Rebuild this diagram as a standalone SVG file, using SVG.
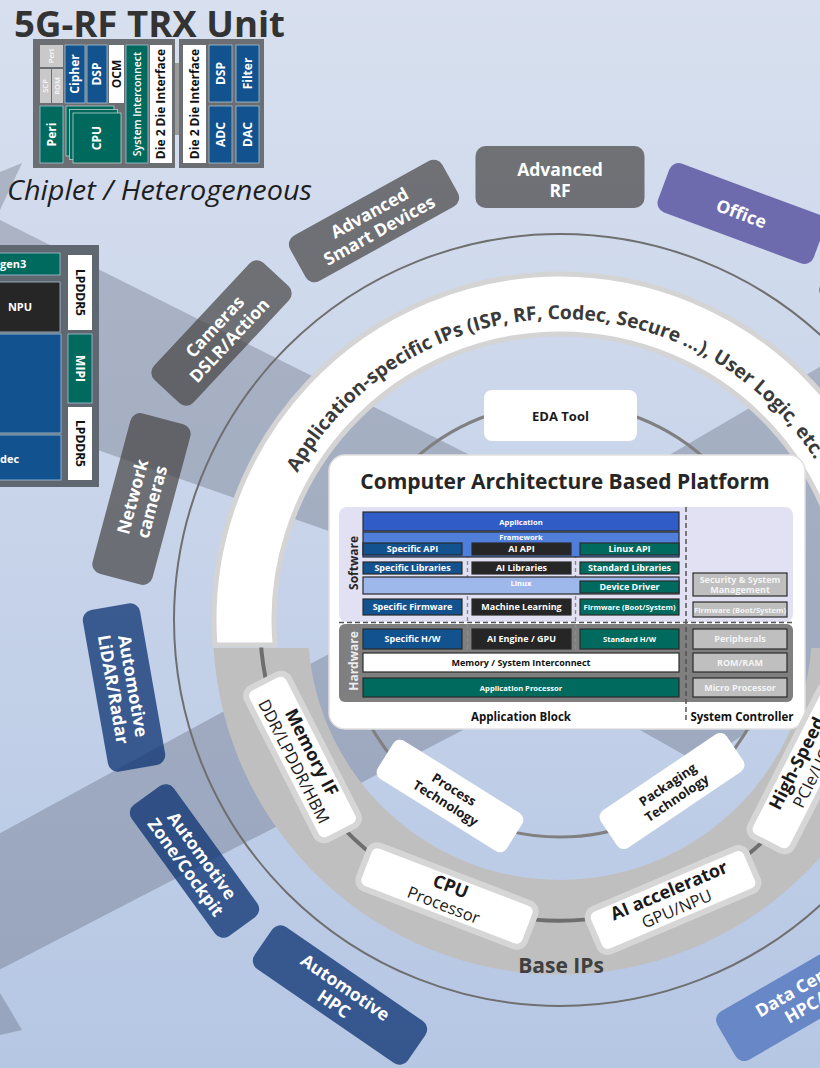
<svg xmlns="http://www.w3.org/2000/svg" width="820" height="1068" viewBox="0 0 820 1068">
<defs>
<linearGradient id="bg" x1="0" y1="0" x2="0" y2="1">
<stop offset="0" stop-color="#d8e0ef"/>
<stop offset="1" stop-color="#b6c7e4"/>
</linearGradient>
<path id="rp" d="M 259 620 A 301 301 0 0 1 861 620"/>
<style>
text{font-family:"Open Sans","Noto Sans","Liberation Sans",sans-serif}
.app{fill:#444342;fill-opacity:.7}
.auto{fill:#0b3171;fill-opacity:.75}
.band{fill:#3c4352;opacity:.26}
.ta{font-size:17.5px;font-weight:700;fill:#fff;text-anchor:middle}
.ip{fill:#fff;stroke:#d6d6d6;stroke-width:6}
.ipb{font-size:18px;font-weight:700;fill:#1a1a1a;text-anchor:middle}
.ipr{font-size:16.5px;font-weight:400;fill:#1a1a1a;text-anchor:middle}
.tech{font-size:13px;font-weight:700;fill:#1a1a1a;text-anchor:middle}
.blk{stroke:#2b2b2b;stroke-width:1.2}
.db{fill:#12528f}
.bk{fill:#262626}
.tl{fill:#006a5e}
.sg{fill:#bfbfbf}
.t9{font-size:9px;font-weight:700;fill:#fff;text-anchor:middle}
.t8{font-size:7.6px;font-weight:700;fill:#fff;text-anchor:middle}
.ts{font-size:9px;font-weight:700;fill:#f4f4f4;text-anchor:middle}
.ts8{font-size:7.6px;font-weight:700;fill:#f4f4f4;text-anchor:middle}
.cc{stroke:#a9c3d6;stroke-width:0.8}
.cw{fill:#fff}
.cg{fill:#c9c9c9}
.ct{font-size:12px;font-weight:700;fill:#fff;text-anchor:middle}
.ctk{font-size:12px;font-weight:700;fill:#111;text-anchor:middle}
.cs{font-size:7.5px;font-weight:600;fill:#f8f8f8;text-anchor:middle}
</style>
</defs>
<rect x="0" y="0" width="820" height="1068" fill="url(#bg)"/>

<!-- translucent bands -->
<g id="bands">
<polygon class="band" points="-5,217.5 600,520 600,626 -5,414"/>
<polygon class="band" points="-5,836 560,528 560,680 -5,972"/>
<polygon class="band" points="560,519 830,361 830,676 700,764 640,730 560,730"/>
<polygon class="band" points="0,172 22,163 0,210"/>
<polygon class="band" points="0,993 22,1030 0,1035"/>
</g>

<!-- application boxes (outer) -->
<g id="n-adv-rf" transform="translate(560,177)"><rect class="app" x="-84.5" y="-31" width="169" height="62" rx="10"/><text class="ta" y="-1">Advanced</text><text class="ta" y="20">RF</text></g>
<g id="n-smart" transform="translate(374,221) rotate(-29)"><rect class="app" x="-87" y="-26" width="174" height="52" rx="10"/><text class="ta" y="-3">Advanced</text><text class="ta" y="17">Smart Devices</text></g>
<g id="n-cameras" transform="translate(221.5,333) rotate(-47)"><rect class="app" x="-80" y="-27" width="160" height="54" rx="10"/><text class="ta" y="-3">Cameras</text><text class="ta" y="17">DSLR/Action</text></g>
<g id="n-netcam" transform="translate(141.5,499) rotate(-75)"><rect class="app" x="-83" y="-31" width="166" height="62" rx="10"/><text class="ta" y="-3">Network</text><text class="ta" y="17">cameras</text></g>
<g id="n-lidar" transform="translate(124,687.5) rotate(80)"><rect class="auto" x="-82" y="-29" width="164" height="58" rx="10"/><text class="ta" y="-3">Automotive</text><text class="ta" y="17">LiDAR/Radar</text></g>
<g id="n-zone" transform="translate(194.5,861) rotate(54)"><rect class="auto" x="-81" y="-26" width="162" height="52" rx="10"/><text class="ta" y="-3">Automotive</text><text class="ta" y="17">Zone/Cockpit</text></g>
<g id="n-autohpc" transform="translate(340,995) rotate(34.5)"><rect class="auto" x="-93" y="-25.5" width="186" height="51" rx="10"/><text class="ta" y="-3">Automotive</text><text class="ta" y="17">HPC</text></g>
<g id="n-datacenter" transform="translate(807,994) rotate(-30)"><rect x="-93" y="-28" width="186" height="56" rx="10" fill="#6787c6"/><text class="ta" y="-3">Data Center</text><text class="ta" y="17">HPC/AI</text></g>
<g id="n-office" transform="translate(741.5,213.5) rotate(20.4)"><rect x="-83" y="-26" width="166" height="52" rx="10" fill="#6e6aae"/><text class="ta" y="6.5">Office</text></g>
<g id="n-edge" transform="translate(892,325) rotate(42)"><rect class="app" x="-80" y="-26" width="160" height="52" rx="10"/></g>

<!-- rings -->
<g id="rings">
<circle cx="560" cy="620" r="386" fill="none" stroke="#6f6f6f" stroke-width="2"/>
<path d="M 213.6 648 A 347 347 0 0 0 906.4 648 L 811.2 648 A 252 252 0 0 1 308.8 648 Z" fill="#bfbfbf"/>
<path d="M 260.5 638 A 300 300 0 0 0 859.5 638" fill="none" stroke="#6e6e6e" stroke-width="4"/>
<circle cx="560" cy="620" r="217" fill="none" stroke="#808080" stroke-width="3"/>
<path d="M 214.9 645 A 346 346 0 1 1 905.1 645 L 844.9 645 A 286 286 0 1 0 275.1 645 Z" fill="#fff" stroke="#d4d4d4" stroke-width="5"/>
<text font-size="19.3" font-weight="700" fill="#3a3a3a"><textPath href="#rp" startOffset="49.2%" text-anchor="middle">Application-specific IPs (ISP, RF, Codec, Secure ...), User Logic, etc.</textPath></text>
<text x="561" y="973" font-size="21" font-weight="700" fill="#404040" text-anchor="middle">Base IPs</text>
</g>

<g id="n-eda"><rect x="484" y="390" width="153" height="51" rx="8" fill="#fff"/><text x="560.5" y="420.5" font-size="13" font-weight="700" fill="#1a1a1a" text-anchor="middle">EDA Tool</text></g>

<!-- platform -->
<g id="n-platform">
<rect x="329" y="455" width="476" height="274" rx="16" fill="#fff" stroke="#e0e0e0" stroke-width="1.5"/>
<text x="565" y="489" font-size="21" font-weight="700" fill="#262626" text-anchor="middle">Computer Architecture Based Platform</text>
<rect x="339" y="507" width="454" height="115" rx="8" fill="#e2e1f3"/>
<rect x="339" y="624" width="454" height="78" rx="6" fill="#7f7f7f"/>
<text transform="translate(358,563) rotate(-90)" font-size="12" font-weight="700" fill="#262626" text-anchor="middle">Software</text>
<text transform="translate(358,661) rotate(-90)" font-size="12" font-weight="700" fill="#ececec" text-anchor="middle">Hardware</text>
<line x1="467.5" y1="533" x2="467.5" y2="651" stroke="#8c8c8c" stroke-width="1.4" stroke-dasharray="4 3"/>
<line x1="575.5" y1="533" x2="575.5" y2="651" stroke="#8c8c8c" stroke-width="1.4" stroke-dasharray="4 3"/>
<rect class="blk" x="363" y="512" width="316" height="19" fill="#2f5cc6"/><text class="t8" x="521" y="524.5">Application</text>
<rect class="blk" x="363" y="532" width="316" height="25" fill="#4f7edb"/><text class="t8" x="521" y="540">Framework</text>
<rect class="blk db" x="363" y="543" width="99" height="12"/><text class="t9" x="412.5" y="552.2">Specific API</text>
<rect class="blk bk" x="472" y="543" width="99" height="12"/><text class="t9" x="521.5" y="552.2">AI API</text>
<rect class="blk tl" x="580" y="543" width="99" height="12"/><text class="t9" x="629.5" y="552.2">Linux API</text>
<rect class="blk db" x="363" y="562" width="99" height="12"/><text class="t9" x="412.5" y="571.3">Specific Libraries</text>
<rect class="blk bk" x="472" y="562" width="99" height="12"/><text class="t9" x="521.5" y="571.3">AI Libraries</text>
<rect class="blk tl" x="580" y="562" width="99" height="12"/><text class="t9" x="629.5" y="571.3">Standard Libraries</text>
<rect class="blk" x="363" y="577" width="316" height="17" fill="#9fb8ec"/><text class="t8" x="521" y="585.5">Linux</text>
<rect class="blk tl" x="580" y="581" width="99" height="12"/><text class="t9" x="629.5" y="590.3">Device Driver</text>
<rect class="blk db" x="363" y="599" width="99" height="16"/><text class="t9" x="412.5" y="610.2">Specific Firmware</text>
<rect class="blk bk" x="472" y="599" width="99" height="16"/><text class="t9" x="521.5" y="610.2">Machine Learning</text>
<rect class="blk tl" x="580" y="599" width="99" height="16"/><text class="t8" x="629.5" y="609.8">Firmware (Boot/System)</text>
<rect class="blk db" x="363" y="629" width="99" height="20"/><text class="t9" x="412.5" y="642.3" font-size="9.5">Specific H/W</text>
<rect class="blk bk" x="472" y="629" width="99" height="20"/><text class="t9" x="521.5" y="642.3">AI Engine / GPU</text>
<rect class="blk tl" x="580" y="629" width="99" height="20"/><text class="t8" x="629.5" y="642" font-size="8">Standard H/W</text>
<rect class="blk" x="363" y="653" width="316" height="19" fill="#fff"/><text x="521" y="665.7" font-size="9" font-weight="700" fill="#111" text-anchor="middle">Memory / System Interconnect</text>
<rect class="blk tl" x="363" y="678" width="316" height="19"/><text class="t8" x="521" y="690.5">Application Processor</text>
<rect class="blk sg" x="693" y="573" width="94" height="23"/><text class="ts" x="740" y="582.8" font-size="8.6">Security &amp; System</text><text class="ts" x="740" y="593.2" font-size="8.6">Management</text>
<rect class="blk sg" x="693" y="602" width="94" height="15"/><text class="ts8" x="740" y="612.5">Firmware (Boot/System)</text>
<rect class="blk sg" x="693" y="629" width="94" height="20"/><text class="ts" x="740" y="642.3" font-size="8.5">Peripherals</text>
<rect class="blk sg" x="693" y="653" width="94" height="19"/><text class="ts" x="740" y="665.7">ROM/RAM</text>
<rect class="blk sg" x="693" y="678" width="94" height="19"/><text class="ts" x="740" y="690.7">Micro Processor</text>
<line x1="339" y1="622.5" x2="793" y2="622.5" stroke="#555" stroke-width="1.5" stroke-dasharray="5 3"/>
<line x1="686" y1="507" x2="686" y2="722" stroke="#555" stroke-width="1.5" stroke-dasharray="5 3"/>
<text x="521" y="721" font-size="11.5" font-weight="700" fill="#111" text-anchor="middle">Application Block</text>
<text x="742" y="721" font-size="11.5" font-weight="700" fill="#111" text-anchor="middle">System Controller</text>
</g>

<!-- base IPs -->
<g id="n-memif" transform="translate(302.5,757) rotate(63)"><rect class="ip" x="-85" y="-23.5" width="170" height="47" rx="9"/><text class="ipb" y="-4">Memory IF</text><text class="ipr" y="15.5">DDR/LPDDR/HBM</text></g>
<g id="n-cpu" transform="translate(447,896) rotate(21)"><rect class="ip" x="-89" y="-23" width="178" height="46" rx="9"/><text class="ipb" y="-4">CPU</text><text class="ipr" y="15.5">Processor</text></g>
<g id="n-ai" transform="translate(673,900) rotate(-23)"><rect class="ip" x="-86" y="-23" width="172" height="46" rx="9"/><text class="ipb" y="-4">AI accelerator</text><text class="ipr" y="15.5">GPU/NPU</text></g>
<g id="n-hs" transform="translate(806,768) rotate(-63)"><rect class="ip" x="-85" y="-23.5" width="170" height="47" rx="9"/><text class="ipb" y="-4">High-Speed</text><text class="ipr" y="15.5">PCIe/UCIe</text></g>
<g id="n-process" transform="translate(450,796) rotate(32)"><rect x="-76" y="-22.5" width="152" height="45" rx="8" fill="#fff"/><text class="tech" y="-3">Process</text><text class="tech" y="13">Technology</text></g>
<g id="n-packaging" transform="translate(672,791) rotate(-34)"><rect x="-76" y="-22.5" width="152" height="45" rx="8" fill="#fff"/><text class="tech" y="-3">Packaging</text><text class="tech" y="13">Technology</text></g>

<!-- SoC block (left, clipped) -->
<g id="n-soc">
<rect x="-10" y="245" width="109" height="242" fill="#5f6771"/>
<rect class="tl cc" x="-10" y="253" width="70" height="22"/><text x="0" y="268" font-size="11" font-weight="700" fill="#fff">gen3</text>
<rect class="bk cc" x="-10" y="282" width="70" height="50"/><text x="20" y="311" font-size="11" font-weight="700" fill="#fff" text-anchor="middle">NPU</text>
<rect class="db cc" x="-10" y="334" width="71" height="99"/>
<rect class="db cc" x="-10" y="435" width="71" height="45"/><text x="0" y="463" font-size="11" font-weight="700" fill="#fff">dec</text>
<rect class="cw" x="68" y="255" width="24" height="75"/><text transform="translate(80,292.5) rotate(90)" y="4" class="ctk" font-size="11">LPDDR5</text>
<rect class="tl cc" x="68" y="334" width="24" height="69"/><text transform="translate(80,368.5) rotate(90)" y="4" class="ct" font-size="11">MIPI</text>
<rect class="cw" x="68" y="407" width="24" height="73"/><text transform="translate(80,443.5) rotate(90)" y="4" class="ctk" font-size="11">LPDDR5</text>
</g>

<!-- chiplet -->
<g id="n-chiplet">
<text x="14" y="37" font-size="35" font-weight="700" fill="#333" textLength="271" lengthAdjust="spacingAndGlyphs">5G-RF TRX Unit</text>
<rect x="173" y="63" width="8" height="72" fill="#9a9a9a"/>
<rect x="33" y="39" width="142" height="129" fill="#6b6e72"/>
<rect x="179" y="39" width="85" height="129" fill="#6b6e72"/>
<rect class="cg" x="40" y="45" width="23" height="22"/><text class="cs" transform="translate(51.5,56) rotate(-90)" y="2.7">Peri</text>
<rect class="cg" x="40" y="69" width="11" height="34"/><text class="cs" transform="translate(45.5,86) rotate(-90)" y="2.7">SCP</text>
<rect class="cg" x="52" y="69" width="11" height="34"/><text class="cs" transform="translate(57.5,86) rotate(-90)" y="2.7">ROM</text>
<rect class="db cc" x="65" y="45" width="20" height="58"/><text class="ct" transform="translate(75,74) rotate(-90)" y="4.3">Cipher</text>
<rect class="db cc" x="87" y="45" width="20" height="58"/><text class="ct" transform="translate(97,74) rotate(-90)" y="4.3">DSP</text>
<rect class="cw" x="109" y="45" width="15" height="58"/><text class="ctk" transform="translate(116.5,74) rotate(-90)" y="4" font-size="11.5">OCM</text>
<rect class="tl cc" x="40" y="106" width="23" height="57"/><text class="ct" transform="translate(51.5,134.5) rotate(-90)" y="4" font-size="11">Peri</text>
<rect x="66" y="106" width="48" height="50" fill="#00695e" stroke="#b9d3cf" stroke-width="0.8"/>
<rect x="69.5" y="109.5" width="48" height="50" fill="#00695e" stroke="#b9d3cf" stroke-width="0.8"/>
<rect x="73" y="113" width="48" height="50" fill="#00695e" stroke="#b9d3cf" stroke-width="0.8"/>
<text class="ct" transform="translate(97,138) rotate(-90)" y="4.3">CPU</text>
<rect class="tl cc" x="126" y="45" width="22" height="118"/><text transform="translate(137,104) rotate(-90)" y="3.8" font-size="10.5" font-weight="600" fill="#fff" text-anchor="middle">System Interconnect</text>
<rect class="cw" x="150" y="45" width="22" height="118"/><text class="ctk" transform="translate(161,104) rotate(-90)" y="4.3">Die 2 Die Interface</text>
<rect class="cw" x="183" y="45" width="23" height="118"/><text class="ctk" transform="translate(194.5,104) rotate(-90)" y="4.3">Die 2 Die Interface</text>
<rect class="db cc" x="209" y="45" width="23" height="57"/><text class="ct" transform="translate(220.5,73.5) rotate(-90)" y="4.3">DSP</text>
<rect class="db cc" x="236" y="45" width="23" height="57"/><text class="ct" transform="translate(247.5,73.5) rotate(-90)" y="4.3">Filter</text>
<rect class="db cc" x="209" y="106" width="23" height="57"/><text class="ct" transform="translate(220.5,134.5) rotate(-90)" y="4.3">ADC</text>
<rect class="db cc" x="236" y="106" width="23" height="57"/><text class="ct" transform="translate(247.5,134.5) rotate(-90)" y="4.3">DAC</text>
<text x="7" y="200" font-size="27" font-style="italic" font-weight="400" fill="#1e1e1e" textLength="305" lengthAdjust="spacingAndGlyphs">Chiplet / Heterogeneous</text>
</g>
</svg>
